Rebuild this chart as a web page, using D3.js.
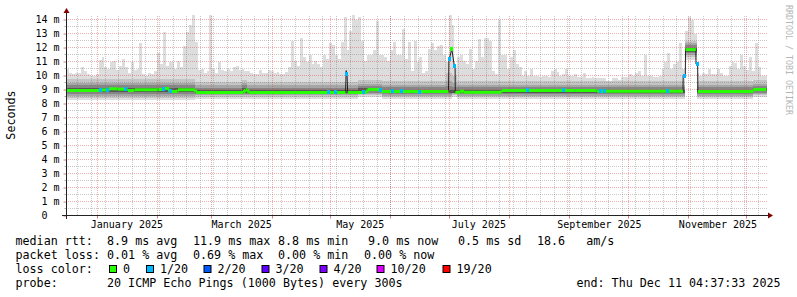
<!DOCTYPE html>
<html>
<head>
<meta charset="utf-8">
<title>smokeping - last 360 days</title>
<script src="https://cdn.jsdelivr.net/npm/d3@7/dist/d3.min.js"></script>
<style>
  html, body { margin: 0; padding: 0; background: #fff; }
  svg { display: block; }
  text { font-family: 'DejaVu Sans Mono', monospace; white-space: pre; }
</style>
</head>
<body>
<svg id="chart" width="797" height="297"></svg>
<script>
const END_TIME = new Date(2025, 11, 11, 4, 37, 33)
const SPAN_DAYS = 360
const BIN_DAYS = 1.5

// top of the light smoke (max ping) per 1.5-day bin, ms
const smokeMax = [
  10.5, 10.2, 10.1, 10.2, 10.2, 10.6, 10.35, 10.1, 10.0, 10.0, 10.1, 11.1, 11.3, 10.6, 10.5, 10.95, 11.05, 10.4, 10.7, 11.2,
  10.6, 10.2, 10.95, 10.4, 10.5, 12.3, 10.1, 10.0, 10.2, 10.1, 10.35, 11.6, 10.8, 13.1, 10.7, 10.95, 11.0, 10.5, 11.05, 10.6,
  12.1, 13.1, 13.6, 14.3, 12.4, 10.4, 10.5, 10.2, 10.3, 14.3, 10.5, 10.2, 11.0, 10.4, 10.35, 10.5, 10.3, 10.6, 10.7, 10.4,
  10.5, 10.3, 10.35, 10.2, 10.1, 10.1, 10.4, 10.2, 10.2, 10.4, 10.3, 10.2, 10.25, 10.1, 10.1, 10.25, 10.6, 12.5, 11.05, 10.7,
  12.7, 11.3, 11.0, 11.45, 10.8, 11.07, 10.8, 10.6, 11.5, 11.2, 12.3, 12.2, 11.5, 11.2, 12.4, 14.2, 11.8, 13.2, 14.3, 14.0,
  14.2, 12.5, 11.07, 11.5, 11.5, 11.8, 13.9, 11.5, 11.5, 11.3, 11.07, 11.8, 12.4, 11.5, 11.5, 13.3, 11.2, 12.4, 10.35, 12.5,
  11.0, 11.3, 10.2, 10.3, 11.9, 12.3, 11.8, 12.1, 12.2, 11.5, 11.0, 14.3, 13.6, 10.5, 11.3, 11.5, 11.07, 10.8, 11.9, 10.5,
  11.07, 12.6, 11.3, 12.7, 12.7, 12.5, 10.35, 10.1, 14.0, 11.5, 11.5, 10.5, 11.3, 11.8, 10.8, 10.6, 10.0, 10.35, 10.0, 10.5,
  10.0, 9.95, 9.9, 9.95, 10.0, 9.9, 10.35, 10.45, 10.25, 10.0, 10.1, 10.5, 10.0, 10.0, 10.1, 9.9, 9.9, 10.2, 9.8, 9.8,
  9.9, 9.8, 9.8, 9.8, 9.8, 9.6, 9.6, 9.8, 9.8, 9.7, 9.9, 9.9, 9.9, 10.1, 10.0, 10.2, 10.35, 10.0, 11.45, 10.0,
  10.0, 9.9, 9.9, 10.0, 10.5, 10.95, 11.6, 10.5, 10.8, 11.0, 12.3, 10.5, 13.2, 14.2, 14.0, 13.0, 10.2, 10.0, 10.2, 10.1,
  10.5, 10.1, 10.1, 10.5, 10.2, 10.0, 10.0, 10.7, 11.0, 10.9, 10.5, 11.45, 10.7, 10.4, 11.3, 10.3, 12.3, 10.6, 10.0, 10.0
]

// inner smoke bands, constant over runs of days (day 0 = start of graph)
const runStart = [0, 66, 90, 93, 150, 162, 195, 198, 201, 318, 324, 353]
const runEnd   = [66, 90, 93, 150, 162, 195, 198, 201, 318, 324, 353, 360]
const runMin = [8.22, 8.35, 8.35, 8.35, 8.45, 8.3, 8.3, 8.5, 8.3, 11.1, 8.3, 8.45]
const runLo2 = [8.4, 8.48, 8.48, 8.48, 8.58, 8.45, 8.45, 8.6, 8.45, 11.3, 8.45, 8.58]
const runLo3 = [8.55, 8.58, 8.58, 8.58, 8.68, 8.56, 8.56, 8.68, 8.56, 11.45, 8.56, 8.68]
const runLo4 = [8.68, 8.66, 8.66, 8.66, 8.78, 8.66, 8.66, 8.74, 8.66, 11.58, 8.66, 8.78]
const runLo5 = [8.8, 8.72, 8.74, 8.72, 8.86, 8.74, 8.74, 8.78, 8.74, 11.7, 8.74, 8.86]
const runHi5 = [9.12, 8.95, 9.1, 8.95, 9.12, 9.0, 9.0, 8.95, 9.0, 12.0, 9.0, 9.12]
const runHi4 = [9.3, 9.1, 9.3, 9.1, 9.25, 9.15, 9.25, 9.15, 9.15, 12.15, 9.15, 9.25]
const runHi3 = [9.5, 9.3, 9.45, 9.3, 9.42, 9.35, 9.6, 9.5, 9.35, 12.3, 9.35, 9.42]
const runHi2 = [9.75, 9.55, 9.7, 9.55, 9.65, 9.6, 10.2, 10.0, 9.6, 12.5, 9.6, 9.65]

// median rtt trace (day, ms)
const medianDay = [
  0, 16.7, 16.7, 21.3, 21.9, 26.2, 26.2, 31.4, 31.6, 34.7,
  35.0, 46.8, 47.3, 49.4, 49.6, 52.7, 53.0, 57.1, 57.3, 66.3,
  66.6, 91.0, 92.1, 93.1, 93.9, 143.5, 143.85, 144.3, 144.6, 154.5,
  154.8, 161.5, 161.7, 196.45, 196.65, 198.15, 199.45, 199.85, 199.95, 202.6,
  203.4, 204.2, 223.7, 224.0, 272.6, 272.8, 317.05, 317.15, 318.25, 318.35,
  323.65, 323.75, 324.6, 324.7, 353.05, 353.2, 360
]
const medianVal = [
  8.93, 8.93, 8.97, 8.97, 9.05, 9.05, 9.02, 9.02, 8.93, 8.93,
  8.98, 8.98, 9.0, 9.0, 9.07, 9.07, 8.86, 8.86, 8.98, 8.98,
  8.79, 8.79, 8.98, 8.98, 8.79, 8.79, 10.35, 10.0, 8.79, 8.79,
  9.0, 9.0, 8.86, 8.85, 11.05, 11.9, 10.7, 10.55, 8.8, 8.8,
  8.95, 8.8, 8.8, 8.93, 8.93, 8.88, 8.88, 10.0, 10.0, 11.85,
  11.85, 10.82, 10.82, 8.86, 8.86, 9.0, 9.0
]

// spots where the median shows packet loss (day, ms, loss level index)
const lossDay = [17.74, 20.83, 30.09, 50.14, 53.49, 134.49, 138.34, 144.15, 152.9, 161.49,
  167.91, 172.29, 181.54, 197.12, 199.44, 236.83, 255.6, 274.63, 276.69, 309.34,
  317.83, 324.26, 198.15]
const lossVal = [8.97, 8.97, 9.02, 9.07, 8.86, 8.79, 8.79, 10.1, 8.79, 9.0,
  8.86, 8.86, 8.85, 11.2, 10.7, 8.93, 8.93, 8.88, 8.88, 8.88,
  10.0, 10.82, 11.9]
const lossLevel = [1, 1, 1, 1, 1, 1, 1, 1, 1, 1,
  1, 1, 1, 1, 1, 1, 1, 1, 1, 1,
  1, 1, 0]

const yTickVals = [0, 1, 2, 3, 4, 5, 6, 7, 8, 9, 10, 11, 12, 13, 14]
const yTickLabels = ['0  ', '1 m', '2 m', '3 m', '4 m', '5 m', '6 m', '7 m', '8 m', '9 m',
  '10 m', '11 m', '12 m', '13 m', '14 m']
const xTickMonths = [0, 2, 4, 6, 8, 10]
const xTickLabels = ['January 2025', 'March 2025', 'May 2025', 'July 2025', 'September 2025', 'November 2025']

const lossKeys = ['0', '1/20', '2/20', '3/20', '4/20', '10/20', '19/20']
const lossColors = ['#26ff00', '#00b8ff', '#0059ff', '#5e00ff', '#7e00ff', '#dd00ff', '#ff0000']

const rttLegend = ['median rtt:', '8.9 ms avg', '11.9 ms max', '8.8 ms min', '9.0 ms now', '0.5 ms sd', '18.6   am/s']
const lossLegend = ['packet loss:', '0.01 % avg', '0.69 % max', '0.00 % min', '0.00 % now']
const probeText = '20 ICMP Echo Pings (1000 Bytes) every 300s'
const endText = 'end: Thu Dec 11 04:37:33 2025'

// ---------------------------------------------------------------

const START_TIME = new Date(END_TIME.getTime() - SPAN_DAYS * 864e5)
const dayToDate = d => new Date(START_TIME.getTime() + d * 864e5)

const X0 = 66.5, X1 = 766.5, Y0 = 215.5
const x = d3.scaleTime().domain([START_TIME, END_TIME]).range([X0, X1])
const y = d3.scaleLinear().domain([0, 200 / 14]).range([Y0, Y0 - 200])
const xd = d => x(dayToDate(d))

const SHADES = ['#dddddd', '#c4c4c4', '#a6a6a6', '#868686', '#575757']
const lows  = [runMin, runLo2, runLo3, runLo4, runLo5]
const highs = [runHi2, runHi2, runHi3, runHi4, runHi5]

const svg = d3.select('#chart')
svg.append('rect').attr('width', 797).attr('height', 297).attr('fill', '#fff')

// smoke
const smoke = svg.append('g').attr('shape-rendering', 'crispEdges')
const runOf = day => runStart.findIndex((s, r) => day >= s && day < runEnd[r])

smoke.selectAll('rect.spike')
  .data(smokeMax)
  .join('rect')
  .attr('class', 'spike')
  .attr('x', (d, i) => xd(i * BIN_DAYS))
  .attr('width', (d, i) => xd((i + 1) * BIN_DAYS) - xd(i * BIN_DAYS))
  .attr('y', d => y(d))
  .attr('height', (d, i) => Math.max(0, y(runHi2[runOf((i + 0.5) * BIN_DAYS)]) - y(d)))
  .attr('fill', SHADES[0])

SHADES.forEach((c, k) => {
  smoke.selectAll(`rect.band${k}`)
    .data(runStart)
    .join('rect')
    .attr('class', `band${k}`)
    .attr('x', (d, r) => xd(runStart[r]))
    .attr('width', (d, r) => xd(runEnd[r]) - xd(runStart[r]))
    .attr('y', (d, r) => y(highs[k][r]))
    .attr('height', (d, r) => y(lows[k][r]) - y(highs[k][r]))
    .attr('fill', c)
})

// grid (dotted, 1 on / 1 off, aligned on whole pixels)
const grid = svg.append('g')
const snap = v => Math.round(v - 0.5) + 0.5
const weeks = d3.timeSunday.range(START_TIME, END_TIME)
const months = d3.timeMonth.range(START_TIME, END_TIME)
const halfSteps = d3.range(0.5, 14.01, 0.5)
const MINOR = 'rgba(120,120,120,0.4)'
const MAJOR = 'rgba(220,60,60,0.42)'

function vLines(cls, data, color) {
  grid.selectAll(`line.${cls}`).data(data).join('line').attr('class', cls)
    .attr('x1', d => snap(x(d))).attr('x2', d => snap(x(d)))
    .attr('y1', 215).attr('y2', 15)
    .attr('stroke', color).attr('stroke-dasharray', '1,1')
}
function hLines(cls, data, color) {
  grid.selectAll(`line.${cls}`).data(data).join('line').attr('class', cls)
    .attr('x1', 68).attr('x2', 767)
    .attr('y1', d => y(d)).attr('y2', d => y(d))
    .attr('stroke', color).attr('stroke-dasharray', '1,1')
}
vLines('vmin', weeks, MINOR)
hLines('hmin', halfSteps.filter(v => v % 1), MINOR)
vLines('vmaj', months, MAJOR)
hLines('hmaj', halfSteps.filter(v => !(v % 1)), MAJOR)

// median line and loss colour band
const medPts = medianDay.map((d, i) => [xd(d), y(medianVal[i])])
svg.append('path')
  .attr('d', d3.line()(medPts))
  .attr('fill', 'none').attr('stroke', '#202020').attr('stroke-width', 1)

const flat = medPts.slice(1).map((p, i) => [medPts[i], p])
  .filter(([a, b]) => Math.abs(b[1] - a[1]) <= Math.max(3, Math.abs(b[0] - a[0])))
svg.append('g').selectAll('line').data(flat).join('line')
  .attr('x1', d => d[0][0]).attr('y1', d => d[0][1])
  .attr('x2', d => d[1][0]).attr('y2', d => d[1][1])
  .attr('stroke', lossColors[0]).attr('stroke-width', 3)

svg.append('g').attr('shape-rendering', 'crispEdges')
  .selectAll('rect').data(lossDay).join('rect')
  .attr('x', d => xd(d) - 1.5).attr('width', 3)
  .attr('y', (d, i) => y(lossVal[i]) - 2).attr('height', 4)
  .attr('fill', (d, i) => lossColors[lossLevel[i]])

// axes
const yAxis = svg.append('g').attr('transform', `translate(${X0},0)`)
  .call(d3.axisLeft(y).tickValues(yTickVals).tickFormat((d, i) => yTickLabels[i]).tickSize(3).tickPadding(4))
yAxis.select('.domain').remove()
yAxis.selectAll('line').attr('stroke', '#d08080')
yAxis.selectAll('text').attr('font-size', '10px').attr('font-family', "'DejaVu Sans Mono', monospace").attr('fill', '#000')

svg.append('g').selectAll('line').data(halfSteps.filter(v => v % 1)).join('line')
  .attr('x1', X0 - 2).attr('x2', X0).attr('y1', d => y(d)).attr('y2', d => y(d))
  .attr('stroke', '#aaa')

const xAxis = svg.append('g').attr('transform', `translate(0,${Y0})`)
  .call(d3.axisBottom(x)
    .tickValues(xTickMonths.map(m => d3.timeDay.offset(new Date(2025, m, 1), 15)))
    .tickFormat((d, i) => xTickLabels[i]).tickSize(0).tickPadding(5.5))
xAxis.select('.domain').remove()
xAxis.selectAll('text').attr('font-size', '10px').attr('font-family', "'DejaVu Sans Mono', monospace").attr('fill', '#000')

svg.append('g').selectAll('line').data(months).join('line')
  .attr('x1', d => snap(x(d))).attr('x2', d => snap(x(d)))
  .attr('y1', Y0).attr('y2', Y0 + 3).attr('stroke', '#d08080')

svg.append('line').attr('x1', 62).attr('x2', 769).attr('y1', Y0).attr('y2', Y0).attr('stroke', '#222')
svg.append('line').attr('x1', X0).attr('x2', X0).attr('y1', 219).attr('y2', 12).attr('stroke', '#222')
svg.append('path').attr('d', `M${X0 - 3},13 L${X0},8 L${X0 + 3},13 Z`).attr('fill', '#7f0000')
svg.append('path').attr('d', `M768,${Y0 - 3} L773,${Y0} L768,${Y0 + 3} Z`).attr('fill', '#7f0000')

// titles
svg.append('text')
  .attr('transform', 'translate(15,115) rotate(-90)')
  .attr('text-anchor', 'middle').attr('font-size', '11.7px').attr('fill', '#000')
  .text('Seconds')
svg.append('text')
  .attr('transform', 'translate(785.5,60) rotate(90)')
  .attr('text-anchor', 'middle').attr('font-size', '8.3px').attr('fill', '#b5b5b5')
  .text('RRDTOOL / TOBI OETIKER')

// legend
const legend = svg.append('g').attr('font-size', '11.7px').attr('fill', '#000')
const rttX = [15.5, 107, 193, 278, 368, 458, 537]
const lossX = [15.5, 107, 193, 278, 364]
legend.selectAll('text.rtt').data(rttLegend).join('text').attr('class', 'rtt')
  .attr('x', (d, i) => rttX[i]).attr('y', 245).text(d => d)
legend.selectAll('text.loss').data(lossLegend).join('text').attr('class', 'loss')
  .attr('x', (d, i) => lossX[i]).attr('y', 259).text(d => d)
legend.append('text').attr('x', 15.5).attr('y', 273).text('loss color:')

const boxX = [109, 146, 203.5, 261.5, 319.5, 376.5, 442.5]
lossKeys.forEach((k, i) => {
  legend.append('rect')
    .attr('x', boxX[i] + 0.5).attr('y', 265.5).attr('width', 7).attr('height', 7)
    .attr('fill', lossColors[i]).attr('stroke', '#000')
  legend.append('text').attr('x', boxX[i] + 14).attr('y', 273).text(k)
})

legend.append('text').attr('x', 15.5).attr('y', 287).text('probe:')
legend.append('text').attr('x', 107).attr('y', 287).text(probeText)
legend.append('text').attr('x', 780.5).attr('y', 287).attr('text-anchor', 'end').text(endText)
</script>
</body>
</html>
